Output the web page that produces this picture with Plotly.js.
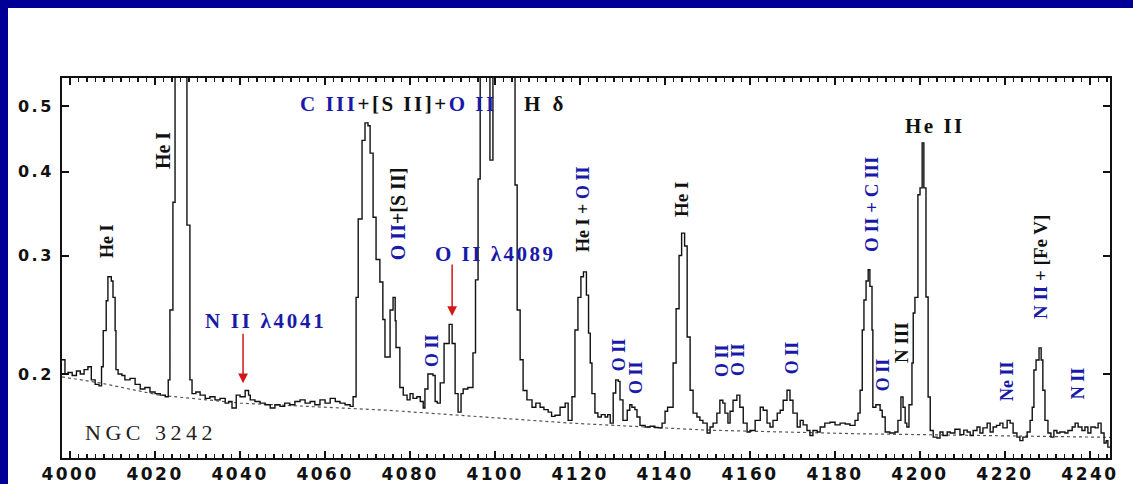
<!DOCTYPE html>
<html>
<head>
<meta charset="utf-8">
<script src="https://cdn.plot.ly/plotly-3.0.1.min.js"></script>
<style>
  html, body { margin:0; padding:0; background:#000096; width:1133px; height:484px; overflow:hidden; }
  #plot { position:absolute; left:8px; top:8px; width:1125px; height:476px; background:#fff; }
  .xtick text { letter-spacing:2.5px; }
  .ytick text { letter-spacing:2.5px; }
</style>
</head>
<body>
<div id="plot"></div>
<script>
// Wavelength (Angstrom) and relative flux of the step spectrum of NGC 3242
const wavelength = [
3998.1,3998.8,3999.5,4000.5,4001.5,4002.4,4003.3,4004.2,4005.0,4005.9,4006.8,4007.4,4007.8,4008.5,4008.9,4009.7,4010.1,4010.6,4010.8,4011.3,
4012.2,4012.9,4014.1,4015.3,4016.5,4017.6,4018.8,4020.0,4021.2,4022.4,4023.1,4023.5,4024.2,4024.7,4027.5,4028.2,4028.7,4029.6,4030.6,4031.8,
4032.9,4034.1,4035.3,4036.5,4037.3,4038.1,4039.1,4040.0,4041.2,4042.0,4042.4,4043.5,4044.7,4045.9,4047.1,4048.2,4049.4,4050.5,4051.7,4052.9,
4054.1,4055.3,4056.5,4057.6,4058.8,4060.0,4061.2,4062.4,4063.5,4064.7,4065.9,4066.6,4067.3,4067.8,4068.7,4069.4,4070.1,4070.6,4071.3,4072.0,
4072.9,4073.6,4074.1,4075.3,4076.0,4076.5,4076.7,4077.6,4078.4,4079.3,4080.0,4080.7,4081.6,4082.4,4083.1,4083.5,4084.2,4085.4,4085.9,4086.4,
4087.1,4088.0,4089.2,4089.9,4090.6,4091.3,4092.0,4092.5,4093.6,4094.8,4095.4,4096.0,4096.5,4098.8,4099.5,4104.7,4105.2,4105.9,4106.6,4107.5,
4108.7,4109.6,4110.6,4111.5,4112.5,4113.3,4114.1,4115.3,4116.5,4117.2,4118.1,4118.8,4119.5,4120.2,4120.8,4121.5,4122.0,4122.4,4122.8,4123.5,
4124.2,4125.0,4125.9,4126.5,4127.1,4127.8,4128.4,4129.0,4129.4,4130.1,4131.1,4131.7,4132.2,4132.9,4133.4,4134.1,4135.3,4136.5,4137.6,4138.4,
4139.3,4140.0,4140.6,4141.9,4142.6,4143.3,4143.9,4144.6,4145.2,4145.9,4146.6,4147.5,4148.2,4148.9,4149.9,4150.6,4151.3,4152.2,4152.9,4153.6,
4154.1,4154.8,4155.3,4156.0,4156.9,4157.6,4158.4,4159.3,4160.0,4161.2,4162.4,4163.1,4164.0,4164.7,4165.4,4166.4,4167.1,4167.8,4168.7,4169.4,
4170.1,4171.1,4171.8,4172.5,4173.4,4174.1,4174.8,4175.8,4176.5,4177.6,4178.8,4180.0,4181.2,4182.4,4183.5,4184.7,4185.4,4185.9,4186.4,4186.8,
4187.3,4187.8,4188.2,4188.7,4188.9,4189.6,4190.6,4191.1,4191.8,4192.9,4194.1,4194.8,4195.5,4196.0,4196.5,4196.9,4197.4,4198.1,4198.4,4198.8,
4199.5,4200.0,4200.5,4200.9,4201.4,4201.9,4202.4,4203.1,4204.0,4204.7,4205.4,4206.4,4207.1,4208.2,4209.4,4210.3,4211.1,4211.8,4212.5,4213.4,
4214.1,4214.8,4215.8,4216.5,4217.2,4218.0,4218.8,4219.5,4220.5,4221.2,4221.9,4222.8,4223.5,4224.2,4225.2,4225.9,4226.4,4226.8,4227.3,4228.0,
4228.5,4228.9,4229.4,4230.1,4230.8,4231.5,4232.2,4232.9,4234.1,4234.8,4235.8,4236.5,4237.2,4238.1,4238.8,4239.5,4240.2,4241.2,4241.9,4242.6,
4243.3,4243.8,4244.2,4244.7
];
const flux = [
0.210,0.200,0.201,0.199,0.202,0.200,0.203,0.205,0.196,0.193,0.192,0.205,0.232,0.257,0.279,0.275,0.260,0.232,0.203,0.200,
0.199,0.196,0.197,0.193,0.190,0.191,0.188,0.187,0.186,0.185,0.196,0.249,0.360,0.700,0.333,0.196,0.187,0.188,0.186,0.184,
0.185,0.183,0.184,0.181,0.182,0.178,0.186,0.185,0.189,0.186,0.183,0.182,0.181,0.180,0.178,0.180,0.179,0.181,0.180,0.182,
0.183,0.181,0.182,0.180,0.183,0.181,0.184,0.182,0.181,0.180,0.179,0.185,0.260,0.340,0.445,0.4725,0.468,0.426,0.342,0.296,
0.274,0.241,0.212,0.249,0.260,0.240,0.219,0.191,0.186,0.183,0.187,0.184,0.185,0.182,0.178,0.190,0.200,0.199,0.182,0.181,
0.194,0.222,0.237,0.222,0.187,0.1755,0.187,0.190,0.191,0.215,0.276,0.390,0.700,0.416,0.700,0.382,0.249,0.210,0.189,0.183,
0.1785,0.181,0.1785,0.177,0.1755,0.173,0.1736,0.1785,0.181,0.1706,0.185,0.2325,0.260,0.279,0.2837,0.262,0.230,0.2077,0.187,0.175,
0.1726,0.174,0.1726,0.174,0.169,0.1874,0.196,0.195,0.183,0.1706,0.1766,0.180,0.1785,0.177,0.1726,0.1677,0.1668,0.1672,0.1665,0.1663,
0.169,0.176,0.1785,0.2077,0.250,0.300,0.324,0.310,0.227,0.1892,0.1749,0.1726,0.1706,0.169,0.1634,0.1668,0.169,0.1749,0.1828,0.181,
0.1749,0.169,0.176,0.1828,0.186,0.1785,0.169,0.164,0.1648,0.1706,0.1785,0.1766,0.169,0.1668,0.1706,0.1749,0.1766,0.1828,0.1892,0.1828,
0.1749,0.1668,0.1706,0.168,0.1648,0.162,0.1648,0.164,0.1668,0.169,0.1695,0.168,0.169,0.1685,0.1677,0.1706,0.1749,0.1892,0.2325,0.2576,
0.275,0.2857,0.270,0.2325,0.1785,0.180,0.1766,0.1726,0.164,0.1634,0.164,0.1706,0.1848,0.1785,0.169,0.1668,0.180,0.2077,0.2464,0.260,
0.3694,0.3783,0.4413,0.3783,0.2603,0.1848,0.1648,0.1611,0.1606,0.164,0.162,0.164,0.1634,0.1655,0.1625,0.165,0.164,0.162,0.1648,0.1668,
0.1634,0.1663,0.169,0.164,0.1668,0.1677,0.169,0.1663,0.1706,0.169,0.1634,0.1611,0.1592,0.1611,0.164,0.1706,0.1785,0.2027,0.2098,0.2187,
0.2098,0.1892,0.1706,0.1634,0.1611,0.1648,0.1634,0.164,0.1634,0.1648,0.1668,0.169,0.1668,0.1648,0.1668,0.1634,0.1668,0.1663,0.169,0.1634,
0.1579,0.1592,0.1557,0.1557
];
// Dotted continuum level
const contWave = [3998.1, 4007, 4021, 4040, 4075, 4100, 4118, 4150, 4185, 4244.7];
const contFlux = [0.198, 0.194, 0.186, 0.181, 0.1766, 0.172, 0.169, 0.165, 0.163, 0.161];

const xTickVals = [4000, 4020, 4040, 4060, 4080, 4100, 4120, 4140, 4160, 4180, 4200, 4220, 4240];
const xTickText = ['4000','4020','4040','4060','4080','4100','4120','4140','4160','4180','4200','4220','4240'];
const yTickVals = [0.2, 0.3, 0.4, 0.5];
const yTickText = ['0.2','0.3','0.4','0.5'];

const BLUE = '#1a1aa8';
const BLACK = '#111111';
const serif = 'Liberation Serif, Times New Roman, serif';
const b = s => '<span style="color:' + BLUE + '">' + s + '</span>';
const k = s => '<span style="color:' + BLACK + '">' + s + '</span>';
const sp = (s, px) => '<span style="letter-spacing:' + px + 'px">' + s + '</span>';

function label(x, y, text, opts) {
  opts = opts || {};
  return {
    x: x, y: y, xref: 'x', yref: 'paper', text: text, showarrow: false,
    textangle: opts.rot ? -90 : 0,
    xanchor: 'center', yanchor: 'middle',
    font: {family: serif, size: opts.size || 18, color: opts.color || BLACK, weight: opts.weight || 'bold'}
  };
}
function arrow(x, y, len) {
  return {
    x: x, y: y, xref: 'x', yref: 'paper', ax: 0, ay: -len, text: '', showarrow: true,
    arrowcolor: '#d01818', arrowwidth: 1.5, arrowhead: 2, arrowsize: 1.3
  };
}

const annotations = [
  label(4008.7, 0.571, 'He I', {rot: true, size: 18}),
  label(4021.9, 0.808, 'He I', {rot: true, size: 20}),
  label(4077.3, 0.932, sp(b('C III') + k('+[S II]+') + b('O II'), 2.5), {size: 21}),
  label(4111.8, 0.932, sp('H δ', 3.5), {size: 21}),
  label(4077.2, 0.642, b('O II') + k('+[S II]'), {rot: true, size: 20}),
  label(4100.0, 0.537, sp('O II λ4089', 2.5), {size: 21, color: BLUE}),
  label(4045.9, 0.361, sp('N II λ4041', 2.7), {size: 21, color: BLUE}),
  label(4085.2, 0.282, 'O II', {rot: true, size: 18, color: BLUE}),
  label(4120.7, 0.653, k('He I + ') + b('O II'), {rot: true, size: 18}),
  label(4144.0, 0.679, 'He I', {rot: true, size: 19}),
  label(4129.2, 0.271, 'O II', {rot: true, size: 18, color: BLUE}),
  label(4133.2, 0.211, 'O II', {rot: true, size: 18, color: BLUE}),
  label(4153.4, 0.258, 'O II', {rot: true, size: 18, color: BLUE}),
  label(4157.2, 0.258, 'O II', {rot: true, size: 18, color: BLUE}),
  label(4169.9, 0.263, 'O II', {rot: true, size: 18, color: BLUE}),
  label(4188.7, 0.666, 'O II + C III', {rot: true, size: 19, color: BLUE}),
  label(4203.5, 0.874, sp('He II', 2.5), {size: 21}),
  label(4228.5, 0.503, b('N II') + k(' + [Fe V]'), {rot: true, size: 19}),
  label(4191.3, 0.218, 'O II', {rot: true, size: 18, color: BLUE}),
  label(4195.8, 0.303, 'N III', {rot: true, size: 19}),
  label(4220.5, 0.203, 'Ne II', {rot: true, size: 18, color: BLUE}),
  label(4237.2, 0.197, 'N II', {rot: true, size: 18, color: BLUE}),
  label(4019.1, 0.068, sp('NGC 3242', 4.5), {size: 22, weight: 'normal', color: '#222'}),
  arrow(4040.7, 0.197, 51),
  arrow(4089.9, 0.374, 53)
];

const traces = [
  {x: contWave, y: contFlux, type: 'scatter', mode: 'lines',
   line: {color: '#555', width: 1.2, dash: 'dot'}, hoverinfo: 'skip'},
  {x: wavelength, y: flux, type: 'scatter', mode: 'lines',
   line: {color: BLACK, width: 1.4, shape: 'hv'}}
];

const axisCommon = {
  showgrid: false, zeroline: false, showline: true, linewidth: 2, linecolor: BLACK,
  mirror: 'ticks', ticks: 'inside', ticklen: 7, tickwidth: 2, tickcolor: BLACK
};

const layout = {
  width: 1125, height: 476,
  margin: {l: 54, r: 23, t: 70, b: 26},
  paper_bgcolor: '#ffffff', plot_bgcolor: '#ffffff',
  showlegend: false,
  xaxis: Object.assign({}, axisCommon, {
    range: [3998.1, 4244.7],
    tickmode: 'array', tickvals: xTickVals, ticktext: xTickText,
    minor: {tickmode: 'linear', tick0: 4000, dtick: 2, ticks: 'inside', ticklen: 4, tickwidth: 1.5, tickcolor: BLACK, showgrid: false},
    tickfont: {family: 'DejaVu Sans', size: 17, color: BLACK, weight: 'bold'}
  }),
  yaxis: Object.assign({}, axisCommon, {
    type: 'log',
    range: [Math.log10(0.150), Math.log10(0.551)],
    tickmode: 'array', tickvals: yTickVals, ticktext: yTickText,
    tickfont: {family: 'DejaVu Sans', size: 16, color: BLACK, weight: 'bold'},
    ticklabelstandoff: 3
  }),
  annotations: annotations
};

Plotly.newPlot('plot', traces, layout, {displayModeBar: false, staticPlot: true});
</script>
</body>
</html>
